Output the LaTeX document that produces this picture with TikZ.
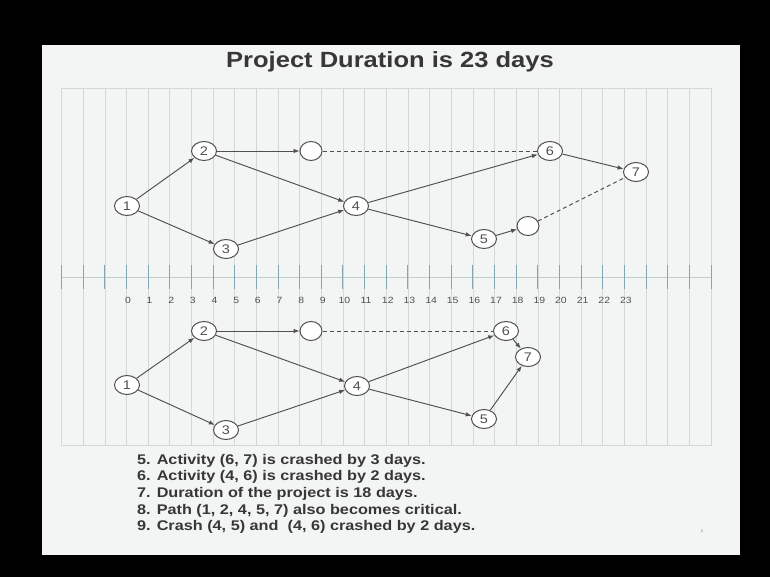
\documentclass[tikz,border=0pt]{standalone}
\usepackage{fontspec}
\setmainfont{Liberation Sans}[FakeStretch=1.16]
\setsansfont{Liberation Sans}[FakeStretch=1.16]
\usetikzlibrary{arrows.meta,shapes.geometric}
\definecolor{slidebg}{RGB}{243,245,244}
\definecolor{gridc}{RGB}{210,216,216}
\definecolor{tickc}{RGB}{128,166,180}
\definecolor{axisc}{RGB}{190,205,210}
\definecolor{edgec}{RGB}{80,80,80}
\definecolor{txtc}{RGB}{55,55,55}
\tikzset{
  ev/.style={ellipse, draw=edgec, line width=1pt, fill=white, minimum width=25pt,
    minimum height=19pt, inner sep=0pt, font=\fontsize{12.5}{12.5}\selectfont, text=edgec},
  dummy/.style={ev, minimum width=22pt, minimum height=19pt},
  act/.style={draw=edgec, line width=0.95pt, -{Latex[length=6pt,width=4.5pt]}},
  dum/.style={draw=edgec, line width=0.95pt, dash pattern=on 4pt off 3pt},
  gridline/.style={draw=gridc, line width=0.6pt},
  tickline/.style={draw=tickc, line width=1pt},
  tl/.style={font=\fontsize{9}{9}\selectfont, text=edgec, inner sep=0pt},
  note/.style={anchor=base west, inner sep=0pt, font=\fontsize{14}{14}\selectfont\bfseries, text=txtc},
}
\begin{document}
\begin{tikzpicture}[x=1pt,y=-1pt]
\useasboundingbox (0,0) rectangle (770,577);
\fill[black] (0,0) rectangle (770,577);
\fill[slidebg] (42,45) rectangle (740,555);
% background grid
\foreach \k in {0,...,30} \draw[gridline] ({61.5+21.65*\k},88) -- ({61.5+21.65*\k},445);
\draw[gridline] (61.5,88) rectangle (711,445);
% title
\node[font=\fontsize{22}{22}\selectfont\bfseries, text=txtc] (title) at (390,62) {Project Duration is 23 days};
% time axis
\draw[draw=axisc, line width=0.6pt] (61.5,277) -- (711,277);
\foreach \k in {0,...,30} \draw[tickline] ({61.5+21.65*\k},265) -- ({61.5+21.65*\k},289);
\foreach \n in {0,...,23} \node[tl] (t\n) at ({61.5+21.65*(\n+3)+1.5},300) {\n};
% upper network
\node[ev] (u1) at (127,206) {1};
\node[ev] (u2) at (204,151) {2};
\node[dummy] (ue1) at (311,151) {};
\node[ev] (u3) at (226,249) {3};
\node[ev] (u4) at (356,206) {4};
\node[ev] (u5) at (484,239) {5};
\node[dummy] (ue2) at (528,226) {};
\node[ev] (u6) at (550,151) {6};
\node[ev] (u7) at (636,172) {7};
\draw[act] (u1) -- (u2);
\draw[act] (u1) -- (u3);
\draw[act] (u2) -- (ue1);
\draw[act] (u2) -- (u4);
\draw[act] (u3) -- (u4);
\draw[dum] (ue1) -- (u6);
\draw[act] (u4) -- (u6);
\draw[act] (u4) -- (u5);
\draw[act] (u5) -- (ue2);
\draw[dum] (ue2) -- (u7);
\draw[act] (u6) -- (u7);
% lower network
\node[ev] (l1) at (127,385) {1};
\node[ev] (l2) at (204,331) {2};
\node[dummy] (le1) at (311,331) {};
\node[ev] (l3) at (226,430) {3};
\node[ev] (l4) at (357,386) {4};
\node[ev] (l5) at (484,419) {5};
\node[ev] (l6) at (506,331) {6};
\node[ev] (l7) at (528,357) {7};
\draw[act] (l1) -- (l2);
\draw[act] (l1) -- (l3);
\draw[act] (l2) -- (le1);
\draw[act] (l2) -- (l4);
\draw[act] (l3) -- (l4);
\draw[dum] (le1) -- (l6);
\draw[act] (l4) -- (l6);
\draw[act] (l4) -- (l5);
\draw[act] (l6) -- (l7);
\draw[act] (l5) -- (l7);
% notes
\node[note] (n5) at (137,464) {5. Activity (6, 7) is crashed by 3 days.};
\node[note] (n6) at (137,480.7) {6. Activity (4, 6) is crashed by 2 days.};
\node[note] (n7) at (137,497.4) {7. Duration of the project is 18 days.};
\node[note] (n8) at (137,514.1) {8. Path (1, 2, 4, 5, 7) also becomes critical.};
\node[note] (n9) at (137,530.8) {9. Crash (4, 5) and\ \ (4, 6) crashed by 2 days.};
\node[font=\fontsize{4}{4}\selectfont, text=gray] (pg) at (702,531) {2};
\end{tikzpicture}
\end{document}
